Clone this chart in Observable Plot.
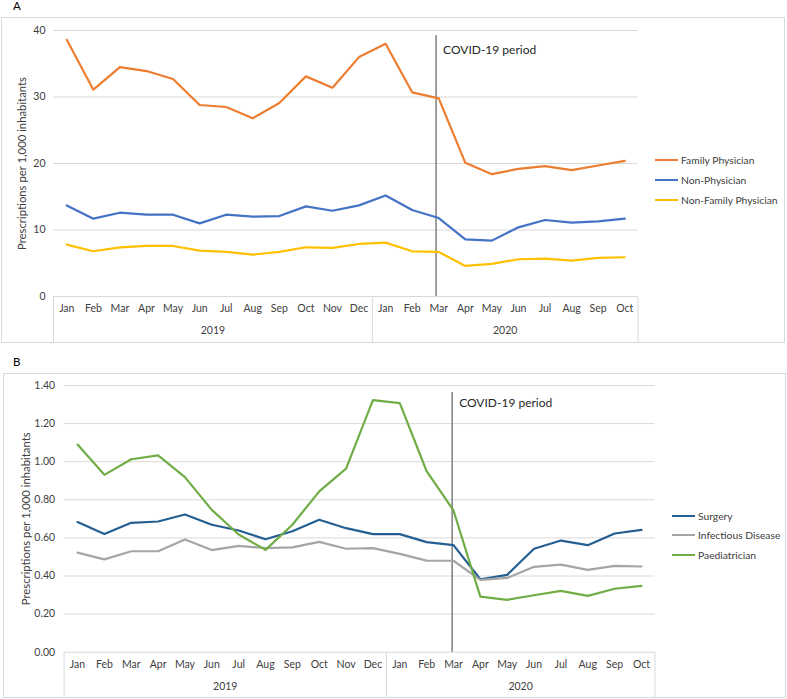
<!DOCTYPE html>
<html><head><meta charset="utf-8">
<script src="https://cdn.jsdelivr.net/npm/d3@7"></script>
<script src="https://cdn.jsdelivr.net/npm/@observablehq/plot@0.6"></script>
<style>
body{margin:0;background:#fff;font-family:Lato,"Open Sans",sans-serif;}
#wrap{position:relative;width:787px;height:699px;overflow:hidden;background:#fff}
.lab{position:absolute;font-size:11.5px;color:#000;line-height:12px}
.box{position:absolute;border:1px solid #D9D9D9;box-sizing:border-box}
.box svg{position:absolute;left:0;top:0}
.leg{position:absolute;height:14px;font-size:10.3px;color:#404040;display:flex;align-items:center;white-space:nowrap}
.leg .sw{display:inline-block;width:23px;height:2px;margin-right:3px}
</style></head>
<body>
<div id="wrap">
  <div class="lab" style="left:13px;top:0px">A</div>
  <div class="box" id="boxA" style="left:1px;top:17px;width:784px;height:326px"></div>
  <div class="lab" style="left:13px;top:356px">B</div>
  <div class="box" id="boxB" style="left:3px;top:373px;width:783px;height:325px"></div>
</div>
<script>
// ---- shared categories ----
const months = ["Jan","Feb","Mar","Apr","May","Jun","Jul","Aug","Sep","Oct","Nov","Dec",
                "Jan","Feb","Mar","Apr","May","Jun","Jul","Aug","Sep","Oct"];
const years = ["2019","2020"];
const yearCenters = [5.5, 16.5];
const yearBounds = [-0.5, 11.5, 21.5];
const covidLabel = "COVID-19 period";

// ---- Panel A ----
const seriesA = ["Family Physician","Non-Physician","Non-Family Physician"];
const colorsA = ["#ED7D31","#4472C4","#FFC000"];
const familyPhysician = [38.6,31.1,34.5,33.9,32.7,28.8,28.5,26.8,29.1,33.1,31.4,36.0,
                         38.0,30.7,29.8,20.1,18.4,19.2,19.6,19.0,19.7,20.4];
const nonPhysician = [13.7,11.7,12.6,12.3,12.3,11.0,12.3,12.0,12.1,13.55,12.9,13.7,
                      15.2,13.0,11.8,8.6,8.4,10.4,11.5,11.1,11.3,11.7];
const nonFamilyPhysician = [7.8,6.8,7.4,7.6,7.6,6.9,6.7,6.3,6.7,7.4,7.3,7.9,
                            8.1,6.8,6.7,4.6,4.9,5.6,5.7,5.4,5.8,5.9];
const yTicksA = [0,10,20,30,40];
const covidA = {x: 13.9, top: 39.2, labelY: 37.0};

// ---- Panel B ----
const seriesB = ["Surgery","Infectious Disease","Paediatrician"];
const colorsB = ["#255E91","#A5A5A5","#70AD47"];
const surgery = [0.683,0.620,0.679,0.686,0.723,0.669,0.639,0.593,0.635,0.695,0.651,0.620,
                 0.620,0.578,0.562,0.383,0.406,0.543,0.586,0.562,0.623,0.642];
const infectiousDisease = [0.523,0.487,0.530,0.530,0.592,0.536,0.558,0.546,0.550,0.579,0.543,0.546,
                           0.516,0.481,0.480,0.380,0.390,0.448,0.460,0.432,0.453,0.450];
const paediatrician = [1.090,0.931,1.013,1.033,0.919,0.747,0.618,0.537,0.669,0.844,0.964,1.323,
                       1.307,0.950,0.744,0.292,0.275,0.299,0.322,0.296,0.333,0.348];
const yTicksB = [0,0.2,0.4,0.6,0.8,1.0,1.2,1.4];
const covidB = {x: 13.95, top: 1.363, labelY: 1.307};

const yTitle = "Prescriptions per 1,000 inhabitants";

function toLong(names, arrays) {
  const out = [];
  names.forEach((s, k) => arrays[k].forEach((v, i) => out.push({s, i, v})));
  return out;
}

function panel(cfg) {
  const data = toLong(cfg.series, cfg.values);
  return Plot.plot({
    width: cfg.width, height: cfg.height,
    marginLeft: cfg.ml, marginRight: cfg.mr, marginTop: cfg.mt, marginBottom: cfg.mb,
    style: {fontFamily: "Lato, 'Open Sans', sans-serif", fontSize: "10.5px", color: "#404040", background: "transparent", overflow: "visible"},
    x: {type: "linear", domain: [-0.5, months.length - 0.5]},
    y: {domain: [0, cfg.yTicks[cfg.yTicks.length - 1]]},
    color: {domain: cfg.series, range: cfg.colors},
    marks: [
      Plot.gridY({ticks: cfg.yTicks.filter(d => d > 0), stroke: "#D9D9D9", strokeOpacity: 1}),
      Plot.ruleY([0], {stroke: "#D9D9D9"}),
      Plot.axisY({ticks: cfg.yTicks, tickSize: 0, tickPadding: cfg.yPad, tickFormat: cfg.yFormat, label: null}),
      Plot.axisX({ticks: d3.range(months.length), tickFormat: i => months[i], tickSize: 0, tickPadding: 8, label: null}),
      Plot.axisX({ticks: yearCenters, tickFormat: d => years[yearCenters.indexOf(d)], tickSize: 0, tickPadding: 30, label: null}),
      Plot.axisX({ticks: yearBounds, tickFormat: () => "", tickSize: cfg.mb, stroke: "#D9D9D9", label: null}),
      Plot.text([yTitle], {text: d => d, frameAnchor: "left", textAnchor: "middle", rotate: -90, dx: cfg.titleDx, fontSize: 11.3, fill: "#404040"}),
      Plot.ruleX([cfg.covid], {x: "x", y1: 0, y2: "top", stroke: "#7F7F7F", strokeWidth: 1.5}),
      Plot.text([cfg.covid], {x: "x", y: "labelY", text: () => covidLabel, dx: 7, textAnchor: "start", fontSize: 12, fill: "#262626"}),
      Plot.line(data, {x: "i", y: "v", z: "s", stroke: "s", strokeWidth: 2.2, strokeLinejoin: "round"})
    ]
  });
}

const plotA = panel({
  width: 782, height: 324, ml: 51, mr: 146.5, mt: 12, mb: 46,
  series: seriesA, colors: colorsA, values: [familyPhysician, nonPhysician, nonFamilyPhysician],
  yTicks: yTicksA, yFormat: d => String(d), yPad: 8, titleDx: -31, covid: covidA
});
document.getElementById("boxA").appendChild(plotA);

const plotB = panel({
  width: 781, height: 323, ml: 59.6, mr: 130.6, mt: 11, mb: 45.3,
  series: seriesB, colors: colorsB, values: [surgery, infectiousDisease, paediatrician],
  yTicks: yTicksB, yFormat: d3.format(".2f"), yPad: 9, titleDx: -37.6, covid: covidB
});
document.getElementById("boxB").appendChild(plotB);

// legends
const wrap = document.getElementById("wrap");
function legend(names, colors, left, tops) {
  names.forEach((n, k) => {
    const d = document.createElement("div");
    d.className = "leg";
    d.style.left = left + "px";
    d.style.top = (tops[k] - 7) + "px";
    const sw = document.createElement("span");
    sw.className = "sw";
    sw.style.background = colors[k];
    d.appendChild(sw);
    d.appendChild(document.createTextNode(n));
    wrap.appendChild(d);
  });
}
legend(seriesA, colorsA, 655, [160, 180, 200]);
legend(seriesB, colorsB, 672, [515.5, 535.3, 555]);
</script>
</body></html>
